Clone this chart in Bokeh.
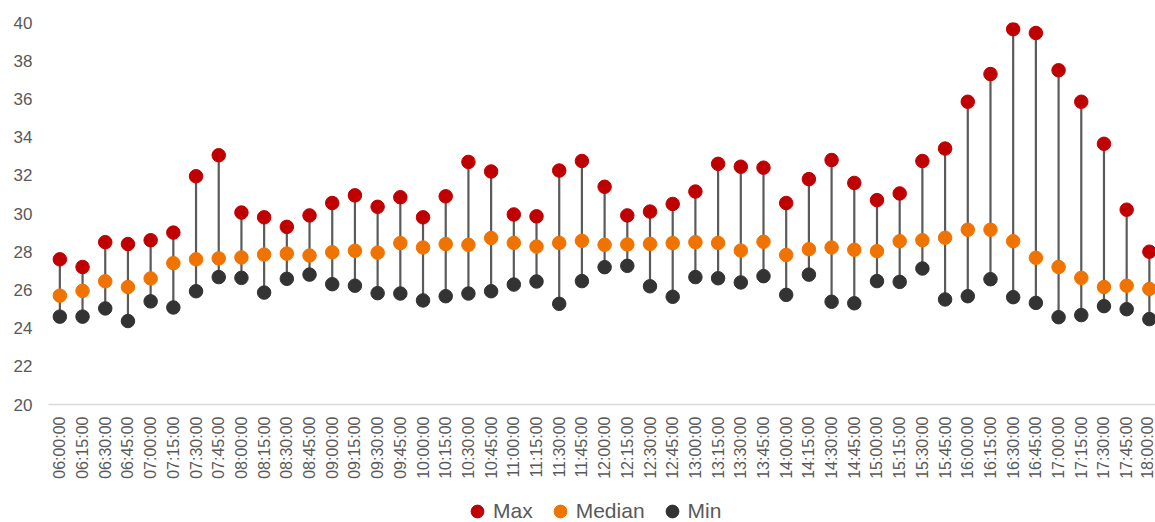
from bokeh.plotting import figure
from bokeh.models import ColumnDataSource, Range1d, FixedTicker, Legend, LegendItem
from bokeh.layouts import column
from bokeh.embed import file_html
from bokeh.resources import INLINE
import math

times = ["06:00:00", "06:15:00", "06:30:00", "06:45:00", "07:00:00", "07:15:00", "07:30:00",
         "07:45:00", "08:00:00", "08:15:00", "08:30:00", "08:45:00", "09:00:00", "09:15:00",
         "09:30:00", "09:45:00", "10:00:00", "10:15:00", "10:30:00", "10:45:00", "11:00:00",
         "11:15:00", "11:30:00", "11:45:00", "12:00:00", "12:15:00", "12:30:00", "12:45:00",
         "13:00:00", "13:15:00", "13:30:00", "13:45:00", "14:00:00", "14:15:00", "14:30:00",
         "14:45:00", "15:00:00", "15:15:00", "15:30:00", "15:45:00", "16:00:00", "16:15:00",
         "16:30:00", "16:45:00", "17:00:00", "17:15:00", "17:30:00", "17:45:00", "18:00:00"]

max_vals = [27.6, 27.2, 28.5, 28.4, 28.6, 29.0, 31.95, 33.05, 30.05, 29.8, 29.3, 29.9, 30.55, 30.95,
            30.35, 30.85, 29.8, 30.9, 32.7, 32.2, 29.95, 29.85, 32.25, 32.75, 31.4, 29.9, 30.1, 30.5,
            31.15, 32.6, 32.45, 32.4, 30.55, 31.8, 32.8, 31.6, 30.7, 31.05, 32.75, 33.4, 35.85, 37.3,
            39.65, 39.45, 37.5, 35.85, 33.65, 30.2, 28.0]
median_vals = [25.7, 25.95, 26.45, 26.15, 26.6, 27.4, 27.6, 27.65, 27.7, 27.85, 27.9, 27.8, 27.97, 28.05,
               27.95, 28.45, 28.22, 28.4, 28.36, 28.72, 28.46, 28.27, 28.46, 28.57, 28.36, 28.38, 28.41, 28.45,
               28.5, 28.46, 28.06, 28.52, 27.83, 28.13, 28.22, 28.1, 28.03, 28.55, 28.6, 28.73, 29.15, 29.15,
               28.55, 27.68, 27.2, 26.63, 26.15, 26.22, 26.05]
min_vals = [24.6, 24.6, 25.03, 24.37, 25.4, 25.08, 25.93, 26.67, 26.63, 25.86, 26.58, 26.8, 26.3, 26.22,
            25.83, 25.81, 25.45, 25.67, 25.81, 25.93, 26.28, 26.44, 25.27, 26.46, 27.19, 27.26, 26.19, 25.64,
            26.67, 26.61, 26.39, 26.72, 25.74, 26.8, 25.38, 25.3, 26.46, 26.42, 27.12, 25.5, 25.67, 26.56,
            25.62, 25.32, 24.57, 24.68, 25.15, 24.99, 24.47]

y_ticks = [20, 22, 24, 26, 28, 30, 32, 34, 36, 38, 40]
series_names = ["Max", "Median", "Min"]
series_colors = ["#C00000", "#F07300", "#333333"]

idx = list(range(len(times)))
src = ColumnDataSource(dict(x=idx, t=times, mx=max_vals, md=median_vals, mn=min_vals))

p = figure(width=1155, height=490, output_backend="svg", toolbar_location=None,
           x_range=Range1d(-0.5, 48.27), y_range=Range1d(20, 40),
           min_border_left=48, min_border_right=0, min_border_top=22, min_border_bottom=86)
p.outline_line_color = None
p.xgrid.grid_line_color = None
p.ygrid.grid_line_color = None
p.background_fill_color = "white"
p.border_fill_color = "white"

grey = "#595959"
p.xaxis.ticker = FixedTicker(ticks=idx)
p.xaxis.major_label_overrides = {i: t for i, t in zip(idx, times)}
p.xaxis.major_label_orientation = math.pi / 2
p.xaxis.major_label_text_font = "Liberation Sans"
p.xaxis.major_label_text_font_size = "16px"
p.xaxis.major_label_text_color = grey
p.xaxis.major_tick_out = 0
p.xaxis.major_tick_in = 0
p.xaxis.major_label_standoff = 12
p.xaxis.major_tick_line_color = None
p.xaxis.minor_tick_line_color = None
p.xaxis.axis_line_color = "#D9D9D9"
p.xaxis.axis_line_width = 1.5

p.yaxis.ticker = FixedTicker(ticks=y_ticks)
p.yaxis.major_label_text_font = "Liberation Sans"
p.yaxis.major_label_text_font_size = "17px"
p.yaxis.major_label_text_color = grey
p.yaxis.major_tick_out = 0
p.yaxis.major_tick_in = 0
p.yaxis.major_label_standoff = 16
p.yaxis.major_tick_line_color = None
p.yaxis.minor_tick_line_color = None
p.yaxis.axis_line_color = None

p.segment(x0="x", y0="mn", x1="x", y1="mx", source=src, line_color="#5A5A5A", line_width=2.2)
p.scatter("x", "mn", source=src, size=13.5, fill_color=series_colors[2], line_color=series_colors[2])
p.scatter("x", "md", source=src, size=13.5, fill_color=series_colors[1], line_color=series_colors[1])
p.scatter("x", "mx", source=src, size=13.5, fill_color=series_colors[0], line_color=series_colors[0])

# Legend strip below the chart (its renderers hold the series but sit outside its visible range)
lf = figure(width=1155, height=32, output_backend="svg", toolbar_location=None,
            x_range=Range1d(-0.5, 48.27), y_range=Range1d(0, 1),
            x_axis_location=None, y_axis_location=None,
            min_border=0, min_border_left=0, min_border_right=0, min_border_top=0, min_border_bottom=0)
lf.outline_line_color = None
lf.xgrid.grid_line_color = None
lf.ygrid.grid_line_color = None
items = []
for name, col, vals in zip(series_names, series_colors, [max_vals, median_vals, min_vals]):
    r = lf.scatter(x=idx, y=vals, size=13.5, fill_color=col, line_color=col)
    items.append(LegendItem(label=name, renderers=[r]))

legend = Legend(items=items, orientation="horizontal", location=(413, -5),
                glyph_width=32, glyph_height=32, label_standoff=0, spacing=11,
                padding=0, margin=0, border_line_color=None, background_fill_alpha=0,
                label_text_font="Liberation Sans", label_text_font_size="21px",
                label_text_color=grey, label_height=32)
lf.add_layout(legend, "center")

layout = column(p, lf, spacing=0)
open("out.html", "w").write(file_html(layout, INLINE))
